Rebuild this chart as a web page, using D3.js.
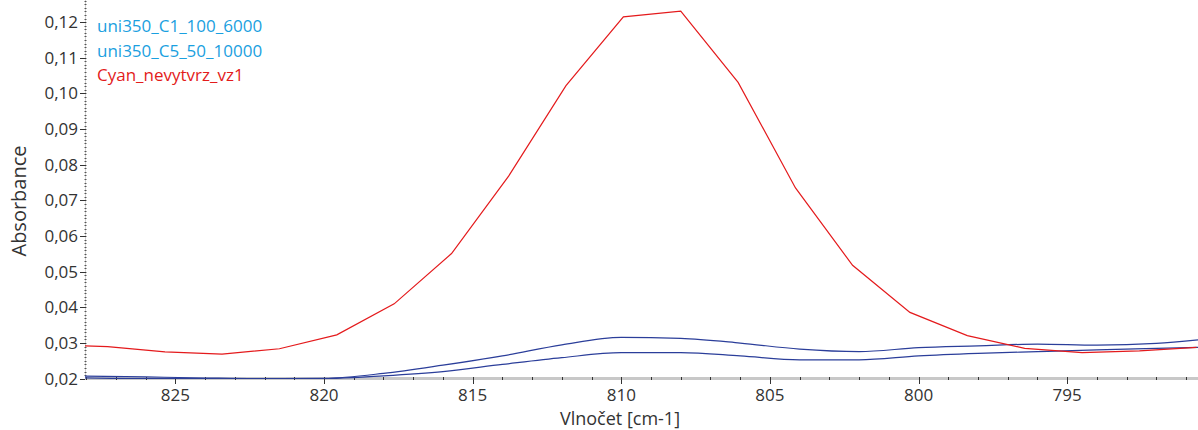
<!DOCTYPE html>
<html>
<head>
<meta charset="utf-8">
<script src="https://cdn.jsdelivr.net/npm/d3@7"></script>
<style>
  body { margin: 0; background: #fff; }
  text { font-family: "Open Sans", sans-serif; }
</style>
</head>
<body>
<div id="chart"></div>
<script>
// wavenumbers (cm-1) for the red spectrum, read from its vertices
var wn_red = [829.21, 827.28, 825.35, 823.43, 821.5, 819.57, 817.64, 815.71, 813.79, 811.86,
  809.93, 808.0, 806.07, 804.14, 802.22, 800.29, 798.36, 796.43, 794.5, 792.57, 790.65];
var cyan_nevytvrz_vz1 = [0.0296, 0.029, 0.0275, 0.0269, 0.0284, 0.0323, 0.041, 0.0551, 0.0768, 0.1022,
  0.1215, 0.1231, 0.1031, 0.0735, 0.0518, 0.0386, 0.0321, 0.0285, 0.0273, 0.0278, 0.0288];

// wavenumbers for the two blue spectra
var wn_blue = [828.5, 826, 824, 822, 820, 818, 816, 814, 812, 810, 808, 806, 804, 802, 800, 798, 796, 794, 792, 790.6];
var uni350_C1_100_6000 = [0.0208, 0.0205, 0.0202, 0.02, 0.0201, 0.0215, 0.0238, 0.0264, 0.0295, 0.0316,
  0.0313, 0.03, 0.0283, 0.0276, 0.0287, 0.0292, 0.0297, 0.0294, 0.0299, 0.0309];
var uni350_C5_50_10000 = [0.0203, 0.02, 0.02, 0.0199, 0.02, 0.0208, 0.022, 0.024, 0.0259, 0.0273,
  0.0273, 0.0264, 0.0253, 0.0253, 0.0264, 0.0271, 0.0276, 0.0281, 0.0285, 0.0288];

var legend_names = ["uni350_C1_100_6000", "uni350_C5_50_10000", "Cyan_nevytvrz_vz1"];
var legend_colors = ["#1aa0e0", "#1aa0e0", "#e31b1b"];

var x_ticks = [825, 820, 815, 810, 805, 800, 795];
var y_ticks = [0.02, 0.03, 0.04, 0.05, 0.06, 0.07, 0.08, 0.09, 0.1, 0.11, 0.12];

var width = 1198, height = 430;
var plot = { left: 85, right: 1198, top: 0, bottom: 379 };

var svg = d3
  .select("#chart")
  .append("svg")
  .attr("width", width)
  .attr("height", height);

var x = d3.scaleLinear().domain([828.04, 790.6]).range([plot.left, plot.right]);
var y = d3.scaleLinear().domain([0.01992, 0.12621]).range([plot.bottom, plot.top]);

svg
  .append("clipPath")
  .attr("id", "clip")
  .append("rect")
  .attr("x", plot.left)
  .attr("y", plot.top)
  .attr("width", plot.right - plot.left)
  .attr("height", plot.bottom - plot.top);

// y axis: light line, dotted minor ticks, major ticks to the left
svg
  .append("line")
  .attr("x1", plot.left + 0.5)
  .attr("x2", plot.left + 0.5)
  .attr("y1", 0)
  .attr("y2", plot.bottom)
  .style("stroke", "#d0d0d0")
  .style("stroke-width", "1px");

var yMinor = d3.range(20, 127).map(function (d) { return d / 1000; });
svg
  .selectAll(".yminor")
  .data(yMinor)
  .enter()
  .append("line")
  .attr("x1", plot.left - 0.5)
  .attr("x2", plot.left + 1.5)
  .attr("y1", function (d) { return Math.round(y(d)) + 0.5; })
  .attr("y2", function (d) { return Math.round(y(d)) + 0.5; })
  .style("stroke", "#555")
  .style("stroke-width", "1px");

svg
  .selectAll(".ymajor")
  .data(y_ticks)
  .enter()
  .append("line")
  .attr("x1", plot.left - 5)
  .attr("x2", plot.left + 1)
  .attr("y1", function (d) { return Math.round(y(d)) + 0.5; })
  .attr("y2", function (d) { return Math.round(y(d)) + 0.5; })
  .style("stroke", "#333")
  .style("stroke-width", "1px");

svg
  .selectAll(".ylabel")
  .data(y_ticks)
  .enter()
  .append("text")
  .attr("x", plot.left - 7)
  .attr("y", function (d) { return y(d); })
  .attr("dy", "0.35em")
  .attr("text-anchor", "end")
  .attr("font-size", "17px")
  .attr("fill", "#333")
  .text(function (d) { return d3.format(".2f")(d).replace(".", ","); });

// x axis: thick grey bar with ticks
svg
  .append("line")
  .attr("x1", plot.left)
  .attr("x2", plot.right)
  .attr("y1", plot.bottom - 0.5)
  .attr("y2", plot.bottom - 0.5)
  .style("stroke", "#c8c8c8")
  .style("stroke-width", "3px");

var xMinor = d3.range(791, 829);
svg
  .selectAll(".xminor")
  .data(xMinor)
  .enter()
  .append("line")
  .attr("x1", function (d) { return Math.round(x(d)) + 0.5; })
  .attr("x2", function (d) { return Math.round(x(d)) + 0.5; })
  .attr("y1", plot.bottom - 2)
  .attr("y2", function (d) { return d % 5 === 0 ? plot.bottom + 5 : plot.bottom + 1; })
  .style("stroke", "#333")
  .style("stroke-width", "1px");

svg
  .selectAll(".xlabel")
  .data(x_ticks)
  .enter()
  .append("text")
  .attr("x", function (d) { return x(d); })
  .attr("y", 401)
  .attr("text-anchor", "middle")
  .attr("font-size", "17px")
  .attr("fill", "#333")
  .text(function (d) { return d; });

// axis titles
svg
  .append("text")
  .attr("transform", "translate(26,201) rotate(-90)")
  .attr("text-anchor", "middle")
  .attr("font-size", "20px")
  .attr("fill", "#333")
  .text("Absorbance");

svg
  .append("text")
  .attr("x", 620)
  .attr("y", 425)
  .attr("text-anchor", "middle")
  .attr("font-size", "18px")
  .attr("fill", "#333")
  .text("Vlnočet [cm-1]");

// spectra
var lines = svg.append("g").attr("clip-path", "url(#clip)");

var blueLine = d3
  .line()
  .x(function (d) { return x(d[0]); })
  .y(function (d) { return y(d[1]); })
  .curve(d3.curveMonotoneX);

[uni350_C1_100_6000, uni350_C5_50_10000].forEach(function (series) {
  lines
    .append("path")
    .datum(d3.zip(wn_blue, series))
    .attr("d", blueLine)
    .style("fill", "none")
    .style("stroke", "#2b3e9a")
    .style("stroke-width", "1.2px");
});

var redLine = d3
  .line()
  .x(function (d) { return x(d[0]); })
  .y(function (d) { return y(d[1]); });

lines
  .append("path")
  .datum(d3.zip(wn_red, cyan_nevytvrz_vz1))
  .attr("d", redLine)
  .style("fill", "none")
  .style("stroke", "#e41a1c")
  .style("stroke-width", "1.2px");

// legend
svg
  .selectAll(".legend")
  .data(legend_names)
  .enter()
  .append("text")
  .attr("x", 97)
  .attr("y", function (d, i) { return 32 + i * 24.5; })
  .attr("font-size", "17px")
  .attr("fill", function (d, i) { return legend_colors[i]; })
  .text(function (d) { return d; });
</script>
</body>
</html>
